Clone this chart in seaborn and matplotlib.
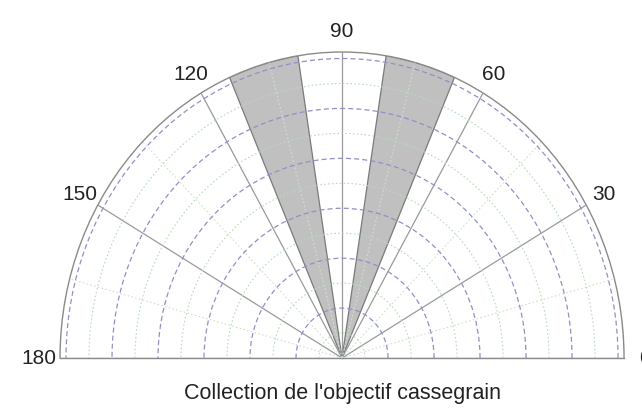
import numpy as np
import pandas as pd
import seaborn as sns
import matplotlib
matplotlib.use("Agg")
import matplotlib.pyplot as plt

# angular sectors collected by the cassegrain objective (degrees)
sector_start = [66.5, 99.0]
sector_end = [81.0, 113.5]
r_max = 6.13

# grid
angle_ticks = [0, 30, 60, 90, 120, 150, 180]
angle_labels = ["0", "30", "60", "90", "120", "150", "180"]
angle_minor = [15, 45, 75, 105, 135, 165]
r_major = [1, 2, 3, 4, 5, 6]
r_minor = [0.5, 1.5, 2.5, 3.5, 4.5, 5.5]

title = "Collection de l'objectif cassegrain"

sns.set_style("white")
plt.rcParams['font.family'] = ['Liberation Sans', 'DejaVu Sans']

df = pd.DataFrame({"start": sector_start, "end": sector_end})
df["center"] = np.deg2rad((df["start"] + df["end"]) / 2)
df["width"] = np.deg2rad(df["end"] - df["start"])

# half disc fills the middle half of the box height when aspect is auto
box = [0.0935, -0.2494, 0.8785, 1.4963]

fig = plt.figure(figsize=(6.42, 4.09), dpi=100)
ax = fig.add_axes(box, projection="polar")
ax.set_thetamin(0)
ax.set_thetamax(180)
ax.set_ylim(0, r_max)

ax.bar(df["center"], r_max, width=df["width"], bottom=0,
       color="#c0c0c0", edgecolor="#7a7a7a", linewidth=0.9, zorder=1)

ax.set_axisbelow(False)
ax.set_xticks(np.deg2rad(angle_ticks))
ax.set_xticklabels(angle_labels)
ax.set_xticks(np.deg2rad(angle_minor), minor=True)
ax.set_yticks(r_major)
ax.set_yticks(r_minor, minor=True)
ax.set_yticklabels([])

ax.grid(axis="x", which="major", color="#9a9a9a", linestyle="-", linewidth=0.9)
ax.grid(axis="x", which="minor", color="#d0e0d0", linestyle=(0, (1.5, 2)), linewidth=0.8)
ax.grid(axis="y", which="major", color="#9090c8", linestyle=(0, (4, 2.5)), linewidth=0.9)
ax.grid(axis="y", which="minor", color="#b8dcb8", linestyle=(0, (1.5, 2)), linewidth=0.8)

ax.tick_params(axis="x", which="major", pad=8, labelsize=15, colors="#222222", length=0)
ax.tick_params(axis="x", which="minor", length=0)
ax.tick_params(axis="y", which="both", length=0)

for sp in ax.spines.values():
    sp.set_color("#8a8a8a")
    sp.set_linewidth(1.0)

ax.set_aspect("auto")
ax.set_position(box)

fig.text(0.534, 0.039, title, ha="center", va="center", fontsize=15.5, color="#222222")

fig.savefig("out.png", dpi=100)
